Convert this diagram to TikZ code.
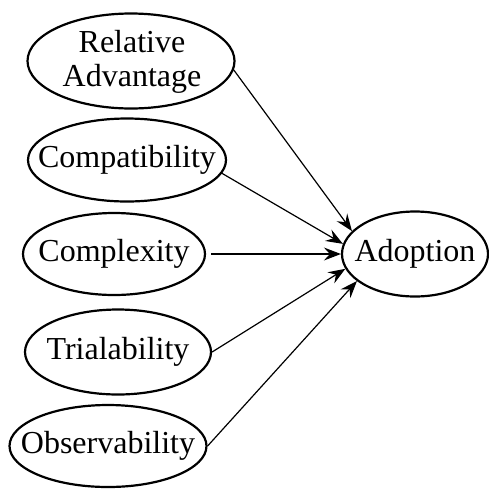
\documentclass[tikz,border=0pt]{standalone}
\usepackage{fontspec}
\setmainfont{Liberation Serif}
\usetikzlibrary{shapes.geometric,arrows.meta}
\tikzset{
  oval/.style={draw, ellipse, line width=2.2pt, inner sep=0pt},
  lbl/.style={font=\fontsize{32}{35}\selectfont, align=center, inner sep=0pt},
  conn/.style={line width=1.2pt, -{Stealth[length=17pt,width=13pt,inset=6pt]}}
}
\begin{document}
\begin{tikzpicture}[x=1pt,y=-1pt]
\useasboundingbox (0,0) rectangle (489,488);
\node[oval, minimum width=207pt, minimum height=95pt] (ra) at (131,61) {};
\node[lbl] (ratext) at (132,62) {Relative\\[-1pt]Advantage};
\node[oval, minimum width=198pt, minimum height=83pt] (co) at (127,160) {};
\node[lbl] (cotext) at (127,160) {Compatibility};
\node[oval, minimum width=182pt, minimum height=82pt] (cx) at (114,254) {};
\node[lbl] (cxtext) at (114,254) {Complexity};
\node[oval, minimum width=186pt, minimum height=85pt] (tr) at (118,352) {};
\node[lbl] (trtext) at (118,352) {Trialability};
\node[oval, minimum width=197pt, minimum height=82pt] (ob) at (108,446) {};
\node[lbl] (obtext) at (108,446) {Observability};
\node[oval, minimum width=146pt, minimum height=85pt] (ad) at (415,254) {};
\node[lbl] (adtext) at (415,254) {Adoption};
\draw[conn] (ra.-5) -- (ad.160);
\draw[conn] (co.-8) -- (ad.172);
\draw[conn] ([xshift=5pt]cx.east) -- (ad.180);
\draw[conn] (tr.east) -- (ad.192);
\draw[conn] (ob.east) -- (ad.205);
\end{tikzpicture}
\end{document}
